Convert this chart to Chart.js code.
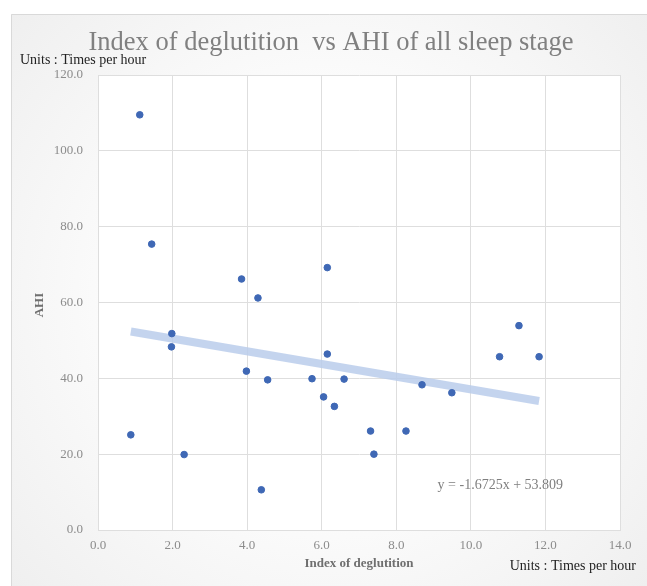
<!DOCTYPE html>
<html>
<head>
<meta charset="utf-8">
<script src="https://cdn.jsdelivr.net/npm/chart.js@4"></script>
<style>
html,body{margin:0;padding:0;background:#fff;}
#wrap{width:647px;height:586px;position:relative;}
</style>
</head>
<body>
<div id="wrap"><canvas id="c" width="647" height="586"></canvas></div>
<script>
// ---- data ----
const deglutition = [1.12, 1.44, 1.98, 1.97, 0.88, 2.31, 3.85, 4.29, 6.15, 3.98, 4.55, 5.74, 6.15, 6.60, 6.05, 6.34, 7.31, 7.40, 4.38, 8.26, 8.69, 9.49, 10.77, 11.29, 11.83];
const ahi         = [109.5, 75.4, 51.8, 48.3, 25.1, 19.9, 66.2, 61.2, 69.2, 41.9, 39.6, 39.9, 46.4, 39.8, 35.1, 32.6, 26.1, 20.0, 10.6, 26.1, 38.3, 36.2, 45.7, 53.9, 45.7];
const trendSlope = -1.6725;
const trendIntercept = 53.809;
const xTicks = [0, 2, 4, 6, 8, 10, 12, 14];
const yTicks = [0, 20, 40, 60, 80, 100, 120];
const titleText = 'Index of deglutition  vs AHI of all sleep stage';
const xTitle = 'Index of deglutition';
const yTitle = 'AHI';
const unitsText = 'Units : Times per hour';
const equationText = 'y = -1.6725x + 53.809';

const points = deglutition.map((x, i) => ({x: x, y: ahi[i]}));
const xMin = Math.min(...deglutition), xMax = Math.max(...deglutition);
const trend = [xMin, xMax].map(x => ({x: x, y: trendSlope * x + trendIntercept}));

const serif = '"Liberation Serif", "DejaVu Serif", serif';

const decor = {
  id: 'decor',
  beforeDraw(chart) {
    const ctx = chart.ctx;
    ctx.save();
    ctx.fillStyle = '#ffffff';
    ctx.fillRect(0, 0, 647, 586);
    const g = ctx.createRadialGradient(330, 300, 150, 330, 300, 480);
    g.addColorStop(0, '#ffffff');
    g.addColorStop(1, '#ececec');
    ctx.fillStyle = g;
    ctx.fillRect(11, 14, 636, 572);
    ctx.strokeStyle = '#d9d9d9';
    ctx.lineWidth = 1;
    ctx.beginPath();
    ctx.moveTo(11.5, 586); ctx.lineTo(11.5, 14.5); ctx.lineTo(647, 14.5);
    ctx.stroke();
    const a = chart.chartArea;
    ctx.fillStyle = '#ffffff';
    ctx.fillRect(a.left, a.top, a.right - a.left, a.bottom - a.top);
    ctx.restore();
  },
  afterDraw(chart) {
    const ctx = chart.ctx;
    const xs = chart.scales.x, ys = chart.scales.y;
    ctx.save();
    ctx.textBaseline = 'middle';
    // title
    ctx.fillStyle = '#808080';
    ctx.font = '26.5px ' + serif;
    ctx.textAlign = 'center';
    ctx.fillText(titleText, 331, 43);
    // units
    ctx.fillStyle = '#222222';
    ctx.font = '14px ' + serif;
    ctx.textAlign = 'left';
    ctx.fillText(unitsText, 20, 60);
    ctx.textAlign = 'right';
    ctx.fillText(unitsText, 636, 566);
    // x axis title
    ctx.fillStyle = '#6f6f6f';
    ctx.font = 'bold 13px ' + serif;
    ctx.textAlign = 'center';
    ctx.fillText(xTitle, 359, 564);
    // y axis title
    ctx.save();
    ctx.translate(40, 305);
    ctx.rotate(-Math.PI / 2);
    ctx.fillText(yTitle, 0, 0);
    ctx.restore();
    // equation
    ctx.fillStyle = '#7f7f7f';
    ctx.font = '14px ' + serif;
    ctx.textAlign = 'center';
    ctx.fillText(equationText, xs.getPixelForValue(10.79), ys.getPixelForValue(11.9));
    ctx.restore();
  }
};

new Chart(document.getElementById('c'), {
  type: 'scatter',
  data: {
    datasets: [
      {
        type: 'line',
        label: 'trend',
        data: trend,
        borderColor: 'rgba(186,205,235,0.85)',
        borderWidth: 8,
        pointRadius: 0,
        fill: false,
        order: 2
      },
      {
        label: 'AHI',
        data: points,
        backgroundColor: '#3f68b5',
        borderColor: '#3f68b5',
        pointRadius: 3.3,
        pointHoverRadius: 3.3,
        order: 1
      }
    ]
  },
  options: {
    responsive: false,
    animation: false,
    events: [],
    layout: { padding: { left: 0, top: 75, right: 27, bottom: 0 } },
    plugins: { legend: { display: false }, tooltip: { enabled: false }, title: { display: false } },
    scales: {
      x: {
        type: 'linear',
        min: 0, max: 14,
        afterBuildTicks(scale) { scale.ticks = xTicks.map(v => ({value: v})); },
        afterFit(scale) { scale.height = 56; },
        ticks: {
          padding: 8,
          color: '#8c8c8c',
          font: { family: serif, size: 13 },
          callback: v => Number(v).toFixed(1)
        },
        grid: { color: '#dedede', drawTicks: false },
        border: { color: '#dedede' }
      },
      y: {
        type: 'linear',
        min: 0, max: 120,
        afterBuildTicks(scale) { scale.ticks = yTicks.map(v => ({value: v})); },
        afterFit(scale) { scale.width = 98; },
        ticks: {
          padding: 15,
          color: '#8c8c8c',
          font: { family: serif, size: 13 },
          callback: v => Number(v).toFixed(1)
        },
        grid: { color: '#dedede', drawTicks: false },
        border: { color: '#dedede' }
      }
    }
  },
  plugins: [decor]
});
</script>
</body>
</html>
